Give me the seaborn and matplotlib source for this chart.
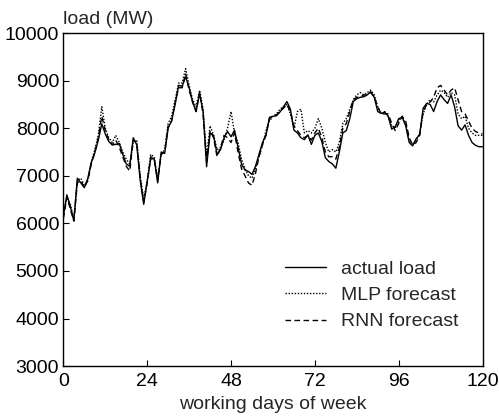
import numpy as np
import pandas as pd
import matplotlib
matplotlib.use("Agg")
import matplotlib.pyplot as plt
import seaborn as sns

days = list(range(0, 121))

actual_load = [
    6150, 6600, 6350, 6050, 6950, 6850, 6750, 6950, 7280, 7480,
    7750, 8090, 7880, 7720, 7650, 7660, 7680, 7450, 7250, 7200,
    7800, 7650, 6900, 6400, 6880, 7350, 7360, 6850, 7500, 7470,
    8000, 8160, 8500, 8900, 8880, 9080, 8850, 8550, 8350, 8730,
    8350, 7190, 7900, 7850, 7450, 7550, 7800, 7930, 7820, 7960,
    7600, 7250, 7120, 7090, 7030, 7200, 7450, 7700, 7850, 8230,
    8250, 8260, 8340, 8450, 8560, 8400, 7960, 7900, 7800, 7760,
    7860, 7660, 7850, 7900, 7720, 7380, 7300, 7250, 7160, 7500,
    7900, 7950, 8200, 8560, 8620, 8650, 8660, 8700, 8770, 8650,
    8350, 8310, 8340, 8250, 7980, 8030, 8200, 8230, 8050, 7700,
    7630, 7780, 7860, 8420, 8520, 8500, 8350, 8560, 8700, 8600,
    8520, 8700, 8450, 8050, 7960, 8070, 7850, 7700, 7640, 7610,
    7610,
]

mlp_forecast = [
    6200, 6550, 6400, 6100, 6900, 6950, 6800, 6900, 7300, 7550,
    7850, 8450, 8000, 7800, 7700, 7850, 7700, 7500, 7350, 7250,
    7700, 7750, 7000, 6500, 6900, 7450, 7400, 6950, 7450, 7550,
    8100, 8250, 8600, 8950, 8950, 9250, 8900, 8600, 8450, 8800,
    8400, 7400, 8050, 7850, 7550, 7600, 7750, 8000, 8350, 7900,
    7700, 7350, 7150, 7000, 6950, 7150, 7400, 7650, 7950, 8150,
    8250, 8300, 8400, 8450, 8500, 8300, 8000, 8350, 8400, 7900,
    7950, 7900, 8000, 8200, 8000, 7700, 7500, 7550, 7500, 7700,
    8100, 8200, 8400, 8600, 8700, 8750, 8700, 8750, 8800, 8700,
    8450, 8300, 8350, 8250, 8050, 8000, 8150, 8250, 8100, 7750,
    7650, 7750, 7900, 8300, 8500, 8600, 8550, 8700, 8800, 8750,
    8650, 8750, 8700, 8300, 8200, 8250, 8000, 7900, 7850, 7850,
    7850,
]

rnn_forecast = [
    6100, 6550, 6300, 6050, 6850, 6900, 6750, 6900, 7250, 7500,
    7800, 8250, 7950, 7750, 7650, 7750, 7600, 7400, 7200, 7100,
    7750, 7700, 6950, 6450, 6850, 7400, 7350, 6900, 7450, 7500,
    8050, 8150, 8550, 8850, 8850, 9150, 8800, 8550, 8350, 8750,
    8300, 7300, 7950, 7800, 7400, 7600, 7850, 7800, 7700, 7900,
    7500, 7150, 7000, 6850, 6800, 7050, 7400, 7650, 7850, 8200,
    8250, 8280, 8350, 8420, 8500, 8350, 8050, 7950, 7850, 7800,
    7850, 7750, 7900, 8000, 7800, 7500, 7400, 7400, 7350, 7600,
    8000, 8100, 8350, 8600, 8650, 8650, 8700, 8700, 8750, 8650,
    8450, 8300, 8300, 8300, 8100, 7950, 8100, 8250, 8150, 7800,
    7650, 7700, 7850, 8350, 8500, 8550, 8650, 8850, 8900, 8800,
    8700, 8800, 8850, 8600, 8350, 8300, 8150, 8000, 7930, 7900,
    7880,
]

series_names = ["actual load", "MLP forecast", "RNN forecast"]
x_ticks = [0, 24, 48, 72, 96, 120]
y_ticks = [3000, 4000, 5000, 6000, 7000, 8000, 9000, 10000]

df = pd.DataFrame({
    "day": days * 3,
    "load": actual_load + mlp_forecast + rnn_forecast,
    "series": [series_names[0]] * len(days) + [series_names[1]] * len(days) + [series_names[2]] * len(days),
})

sns.set_theme(style="ticks")
plt.rcParams["font.family"] = ["Liberation Sans", "DejaVu Sans"]

fig = plt.figure(figsize=(4.99, 4.18), dpi=100)
ax = fig.add_axes([0.127, 0.124, 0.840, 0.797])

sns.lineplot(
    data=df, x="day", y="load", hue="series", style="series",
    palette=["black", "black", "black"],
    dashes={"actual load": "", "MLP forecast": (1, 1.2), "RNN forecast": (4, 2.5)},
    linewidth=1.0, ax=ax, legend=True,
)

ax.set_xlim(0, 120)
ax.set_ylim(3000, 10000)
ax.set_xticks(x_ticks)
ax.set_yticks(y_ticks)
ax.tick_params(direction="in", length=4, width=0.8, labelsize=14, colors="black",
               top=False, right=False)
ax.tick_params(axis="x", pad=5)
ax.tick_params(axis="y", pad=3)
for s in ax.spines.values():
    s.set_visible(True)
    s.set_linewidth(1.0)
    s.set_color("black")
ax.set_xlabel("working days of week", fontsize=14, labelpad=4)
ax.set_ylabel("")
ax.text(0.0, 1.015, "load (MW)", transform=ax.transAxes, fontsize=14, ha="left", va="bottom")

leg = ax.legend(
    title=None, loc="lower right", bbox_to_anchor=(0.985, 0.055), frameon=False,
    fontsize=14, handlelength=2.1, handletextpad=0.8, labelspacing=0.45,
)

fig.savefig("out.png", dpi=100)
